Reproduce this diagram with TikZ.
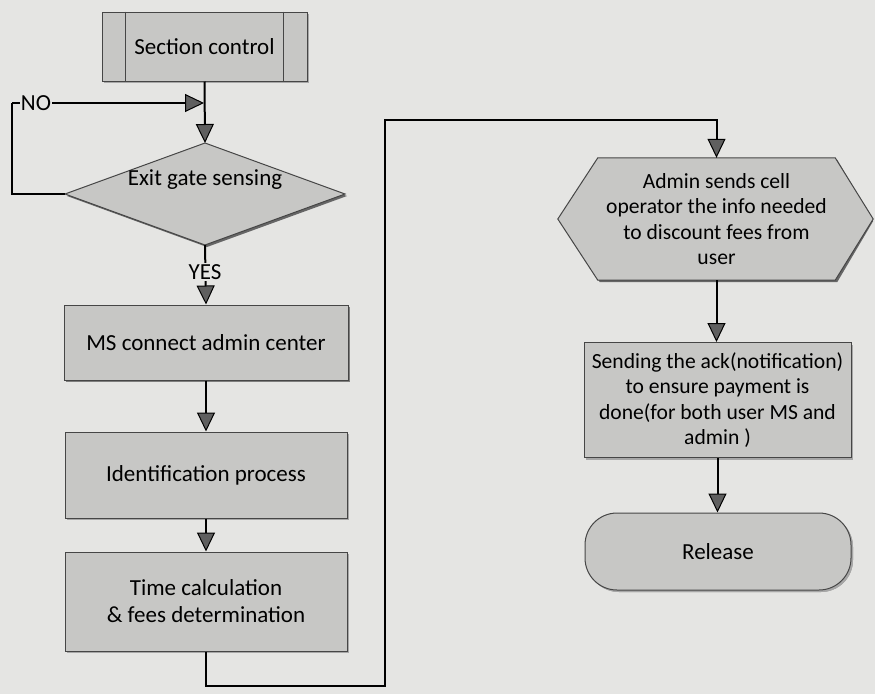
\documentclass[tikz,border=0pt]{standalone}
\usepackage{fontspec}
\setmainfont{Carlito}
\usetikzlibrary{arrows.meta,shadows,calc}

\definecolor{paper}{RGB}{229,229,227}
\definecolor{boxgray}{RGB}{199,199,197}
\definecolor{edgegray}{RGB}{70,70,70}
\definecolor{tipgray}{RGB}{95,95,95}

\newcommand{\bigtext}{\fontsize{23}{27}\selectfont}
\newcommand{\smalltext}{\fontsize{21.6}{25.5}\selectfont}

\tikzset{
  procbox/.style={draw=edgegray, line width=1pt, fill=boxgray, inner sep=0pt,
    align=center, font=\bigtext,
    drop shadow={shadow xshift=2pt, shadow yshift=-2pt, fill=black!55, opacity=0.9}},
  lightshadow/.style={drop shadow={shadow xshift=2pt, shadow yshift=-2pt, fill=black!30, opacity=0.8}},
  flow/.style={line width=2pt, draw=black,
    -{Triangle[width=18pt,length=19pt,line width=1pt,fill=tipgray]}},
  plainline/.style={line width=2pt, draw=black},
  tag/.style={fill=paper, inner sep=1pt, font=\bigtext}
}

\begin{document}
\begin{tikzpicture}[x=1pt,y=-1pt]
  % page
  \fill[paper] (0,0) rectangle (875,694);
  \useasboundingbox (0,0) rectangle (875,694);

  % ---- left column ----
  \node[procbox, lightshadow, minimum width=205pt, minimum height=69pt] (sec) at (204.5,46.5) {Section control};
  \draw[edgegray, line width=1pt] ([xshift=24pt]sec.north west) -- ([xshift=24pt]sec.south west)
                                  ([xshift=-24pt]sec.north east) -- ([xshift=-24pt]sec.south east);

  % decision diamond
  \coordinate (gtop) at (205,143);
  \coordinate (gleft) at (65,194);
  \coordinate (gright) at (345,194);
  \coordinate (gbot) at (205,245);
  \fill[black!60] ($(gtop)+(2,2)$) -- ($(gright)+(2,2)$) -- ($(gbot)+(2,2)$) -- ($(gleft)+(2,2)$) -- cycle;
  \filldraw[fill=boxgray, draw=edgegray, line width=1pt] (gtop) -- (gright) -- (gbot) -- (gleft) -- cycle;
  \node[font=\bigtext, inner sep=0pt] (gatetext) at (205,180) {Exit gate sensing};

  \node[procbox, minimum width=284pt, minimum height=75pt] (ms) at (206,342.5) {MS connect admin center};
  \node[procbox, lightshadow, minimum width=282pt, minimum height=86pt] (ident) at (206,475) {Identification process};
  \node[procbox, lightshadow, minimum width=282pt, minimum height=99pt] (timecalc) at (206,601.5)
       {Time calculation\\\& fees determination};

  % ---- right column ----
  \node[inner sep=0pt, minimum width=237pt, minimum height=122pt, align=center, font=\smalltext] (hex) at (716.5,219)
       {Admin sends cell\\operator the info needed\\to discount fees from\\user};
  \fill[black!60] ($(hex.north west)+(2,2)$) -- ($(hex.north east)+(2,2)$) -- ($(hex.east)+(38,2)$)
       -- ($(hex.south east)+(2,2)$) -- ($(hex.south west)+(2,2)$) -- ($(hex.west)+(-38,2)$) -- cycle;
  \filldraw[fill=boxgray, draw=edgegray, line width=1pt] (hex.north west) -- (hex.north east) -- ($(hex.east)+(38,0)$)
       -- (hex.south east) -- (hex.south west) -- ($(hex.west)+(-40,0)$) -- cycle;
  \node[inner sep=0pt, align=center, font=\smalltext] at (hex.center)
       {Admin sends cell\\operator the info needed\\to discount fees from\\user};

  \node[procbox, lightshadow, font=\smalltext, minimum width=267pt, minimum height=115pt] (send) at (717.5,400)
       {Sending the ack(notification)\\to ensure payment is\\done(for both user MS and\\admin )};
  \node[procbox, lightshadow, rounded corners=32pt, minimum width=266pt, minimum height=77pt] (rel) at (718,551.5) {Release};

  % ---- connectors ----
  \coordinate (nocorner) at (12,103);
  \coordinate (nojoin) at (205,103);
  \coordinate (bend1) at (385,686);
  \coordinate (bend2) at (385,120);

  \draw[flow] (sec.south) -- (gtop);
  \draw[plainline] (gleft) -| (nocorner);
  \draw[flow] (nocorner) -- ([xshift=-1pt]nojoin);
  \node[tag] (nolabel) at (36,103) {NO};

  \draw[flow] (gbot) -- (ms.north);
  \node[tag] (yeslabel) at (205,272) {YES};

  \draw[flow] (ms.south) -- (ident.north);
  \draw[flow] (ident.south) -- (timecalc.north);

  \draw[flow] (timecalc.south) |- (bend1) -- (bend2) -| (hex.north);
  \draw[flow] (hex.south) -- (hex.south |- send.north);
  \draw[flow] (send.south) -- (send.south |- rel.north);
\end{tikzpicture}
\end{document}
